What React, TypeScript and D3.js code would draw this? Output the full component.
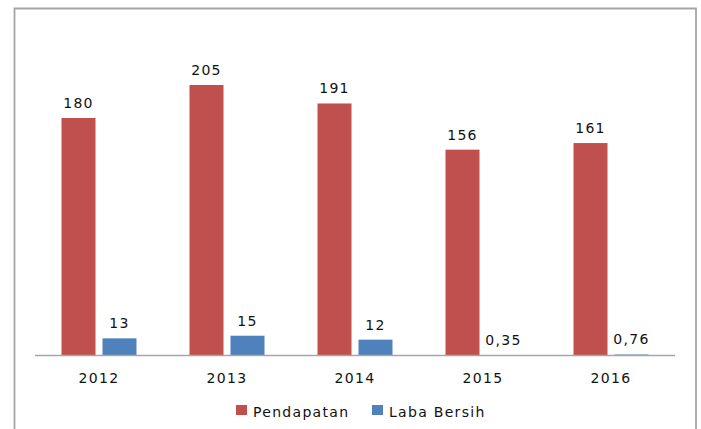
import React from "react";
import * as d3 from "d3";

const years = ["2012", "2013", "2014", "2015", "2016"];
const pendapatan = [180, 205, 191, 156, 161];
const labaBersih = [13, 15, 12, 0.35, 0.76];
const seriesNames = ["Pendapatan", "Laba Bersih"];
const seriesColors = ["#C0504D", "#4F81BD"];

const W = 701;
const H = 429;
const FONT = "'DejaVu Sans', Verdana, sans-serif";

const fmt = (v: number) => String(v).replace(".", ",");

export default function App() {
  const axisY = 355.5;
  const x0 = d3.scaleBand<string>().domain(years).range([35, 675]).paddingInner(0).paddingOuter(0);
  const y = d3.scaleLinear().domain([0, 250]).range([axisY, axisY - 250 * 1.3195]);
  const barW = 34;
  const gap = 7;
  const series = [pendapatan, labaBersih];

  return (
    <svg
      width={W}
      height={H}
      style={{ position: "absolute", left: 0, top: 0, background: "#fff" }}
      fontFamily={FONT}
    >
      <rect x={0} y={0} width={W} height={H} fill="#fff" />
      {/* chart border */}
      <path d={`M14.5,${H + 5} V8.5 H696 V${H + 5}`} fill="none" stroke="#A5A5A5" strokeWidth={1.8} />
      {years.map((yr, i) => {
        const cx = (x0(yr) as number) + x0.bandwidth() / 2;
        return (
          <g key={yr}>
            {series.map((s, j) => {
              const bx = cx - gap / 2 - barW + j * (barW + gap);
              const v = s[i];
              const top = y(v);
              return (
                <g key={j}>
                  <rect x={bx} y={top} width={barW} height={axisY - top} fill={seriesColors[j]} />
                  <text
                    x={bx + barW / 2}
                    y={top - 10}
                    textAnchor="middle"
                    fontSize={14}
                    letterSpacing={1.3}
                    fill="#111"
                  >
                    {fmt(v)}
                  </text>
                </g>
              );
            })}
            <text x={cx} y={383} textAnchor="middle" fontSize={14} letterSpacing={1.3} fill="#111">
              {yr}
            </text>
          </g>
        );
      })}
      <line x1={35} x2={675} y1={axisY} y2={axisY} stroke="#A6A6A6" strokeWidth={1.5} />
      {/* legend */}
      {seriesNames.map((n, j) => {
        const lx = j === 0 ? 236 : 372;
        return (
          <g key={n}>
            <rect x={lx} y={405} width={11} height={10} fill={seriesColors[j]} />
            <text x={lx + 17} y={417} fontSize={14} letterSpacing={1.3} fill="#111">
              {n}
            </text>
          </g>
        );
      })}
    </svg>
  );
}
